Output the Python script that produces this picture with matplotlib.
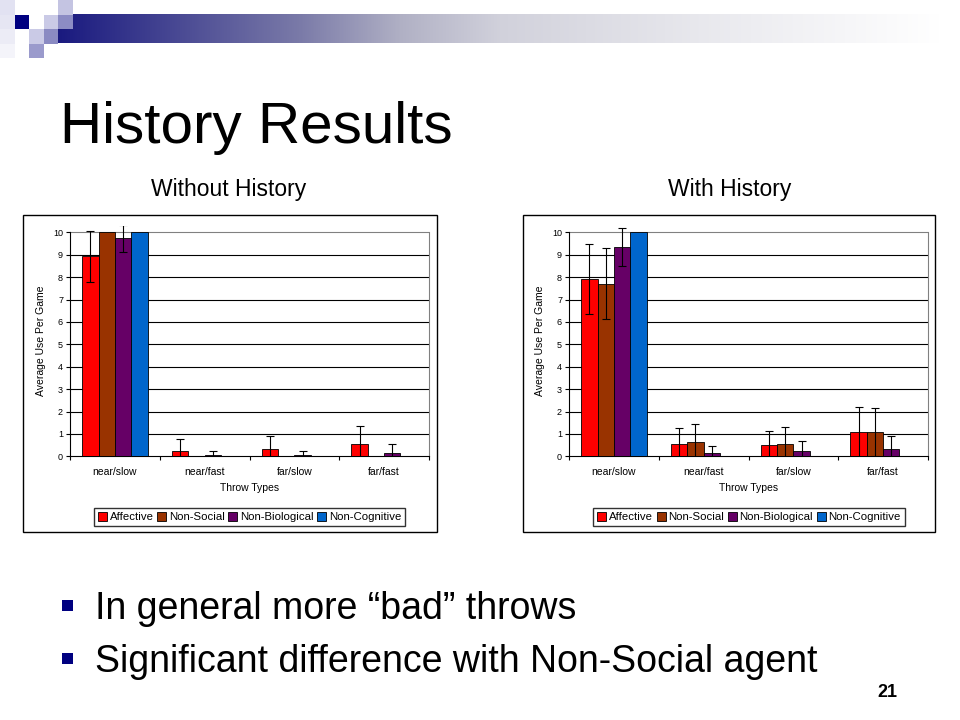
import numpy as np
import matplotlib.pyplot as plt
from matplotlib.patches import Rectangle, Patch

plt.rcParams['font.family'] = ['Liberation Sans', 'DejaVu Sans']

categories = ["near/slow", "near/fast", "far/slow", "far/fast"]
agents = ["Affective", "Non-Social", "Non-Biological", "Non-Cognitive"]
colors = ["#FF0000", "#993300", "#660066", "#0066CC"]

# Without History
no_hist_affective = [8.93, 0.24, 0.33, 0.55]
no_hist_nonsocial = [10.0, 0.0, 0.0, 0.0]
no_hist_nonbio = [9.73, 0.05, 0.05, 0.13]
no_hist_noncog = [10.0, 0.0, 0.0, 0.0]
no_hist_affective_err = [1.13, 0.53, 0.58, 0.80]
no_hist_nonsocial_err = [0.0, 0.0, 0.0, 0.0]
no_hist_nonbio_err = [0.6, 0.20, 0.18, 0.42]
no_hist_noncog_err = [0.0, 0.0, 0.0, 0.0]

# With History
hist_affective = [7.90, 0.54, 0.49, 1.07]
hist_nonsocial = [7.71, 0.63, 0.54, 1.07]
hist_nonbio = [9.33, 0.13, 0.22, 0.31]
hist_noncog = [10.0, 0.0, 0.0, 0.0]
hist_affective_err = [1.56, 0.71, 0.66, 1.12]
hist_nonsocial_err = [1.57, 0.80, 0.75, 1.07]
hist_nonbio_err = [0.85, 0.32, 0.46, 0.58]
hist_noncog_err = [0.0, 0.0, 0.0, 0.0]

W, H = 960, 720
fig = plt.figure(figsize=(9.6, 7.2), dpi=100)


def fx(x):
    return x / W


def fy(y):
    return 1 - y / H


# background / decoration layer
bg = fig.add_axes([0, 0, 1, 1])
bg.set_xlim(0, W)
bg.set_ylim(H, 0)
bg.axis("off")

# header gradient band (navy fading to white)
gx = np.linspace(58, 940, 600)
stops_x = [58, 300, 400, 500, 700, 940]
stops_c = np.array([[0.10, 0.10, 0.50], [0.48, 0.48, 0.66], [0.69, 0.69, 0.77],
                    [0.82, 0.82, 0.86], [0.91, 0.91, 0.93], [1.0, 1.0, 1.0]])
band = np.stack([np.interp(gx, stops_x, stops_c[:, k]) for k in range(3)], axis=1)
bg.imshow(band[None, :, :], extent=[58, 940, 43, 14], aspect="auto", zorder=1)

s = 14.5
squares = [
    (0, 0, "#e2e2f2"), (0, 1, "#e6e6f3"), (0, 2, "#ececf6"), (0, 3, "#f4f4fa"),
    (1, 1, "#000080"),
    (2, 2, "#cacae6"), (2, 3, "#9a9acc"),
    (3, 1, "#cacae6"), (3, 2, "#8a8ac2"),
    (4, 0, "#c4c4e2"), (4, 1, "#8c8cc4"),
]
for cx, cy, c in squares:
    bg.add_patch(Rectangle((cx * s, cy * s), s, s, facecolor=c, edgecolor="none", zorder=2))

bg.text(60, 143, "History Results", fontsize=42, va="baseline", ha="left")
bg.text(229, 196, "Without History", fontsize=16.5, va="baseline", ha="center")
bg.text(730, 196, "With History", fontsize=16.5, va="baseline", ha="center")

for yb, txt in [(619, "In general more \u201cbad\u201d throws"),
                (672, "Significant difference with Non-Social agent")]:
    bg.add_patch(Rectangle((62, yb - 19), 11, 11, facecolor="#000080", edgecolor="none"))
    bg.text(95, yb, txt, fontsize=27, va="baseline", ha="left")

bg.text(897, 697, "21", fontsize=13, fontweight="bold", va="baseline", ha="right")

# chart frames
bg.add_patch(Rectangle((23, 215), 414, 317, facecolor="none", edgecolor="black", lw=1))
bg.add_patch(Rectangle((523, 215), 412, 317, facecolor="none", edgecolor="black", lw=1))


def draw_chart(x0, x1, vals, errs, legend_center):
    ytop = 10.3
    y_bottom = 456.3
    y_top = y_bottom - ytop * 22.4
    ax = fig.add_axes([fx(x0), fy(y_bottom), fx(x1 - x0), (y_bottom - y_top) / H])
    ax.set_facecolor("white")
    x = np.arange(len(categories))
    w = 0.182
    for i, (v, e) in enumerate(zip(vals, errs)):
        pos = x + (i - 1.5) * w
        ax.bar(pos, v, width=w, color=colors[i], edgecolor="black", lw=0.6, zorder=3)
        v = np.array(v)
        e = np.array(e)
        m = e > 0
        ax.errorbar(pos[m], v[m], yerr=e[m], fmt="none", ecolor="black",
                    elinewidth=0.8, capsize=3, capthick=0.8, zorder=4)
    ax.set_xlim(-0.5, 3.5)
    ax.set_ylim(0, ytop)
    for yy in range(1, 10):
        ax.axhline(yy, color="black", lw=0.8, zorder=1)
    ax.axhline(10, color="#808080", lw=0.8, zorder=1)
    ax.spines["top"].set_visible(False)
    ax.spines["right"].set_color("#808080")
    ax.spines["right"].set_bounds(0, 10)
    ax.spines["left"].set_bounds(0, 10)
    ax.spines["left"].set_linewidth(0.8)
    ax.spines["bottom"].set_linewidth(0.8)
    ax.spines["right"].set_linewidth(0.8)
    ax.set_yticks(range(0, 11))
    ax.tick_params(axis="y", labelsize=6.5, length=3, width=0.8, pad=2)
    ax.set_xticks(np.arange(-0.5, 4.0, 1.0))
    ax.set_xticklabels([])
    ax.set_xticks(x, minor=True)
    ax.set_xticklabels(categories, minor=True, fontsize=7.5)
    ax.tick_params(axis="x", which="major", length=3, width=0.8)
    ax.tick_params(axis="x", which="minor", length=0, pad=8)
    ax.set_xlabel("Throw Types", fontsize=7.5, labelpad=4)
    ax.set_ylabel("Average Use Per Game", fontsize=7.5, labelpad=5)
    handles = [Patch(facecolor=c, edgecolor="black", lw=0.6) for c in colors]
    fig.legend(handles, agents, loc="center",
               bbox_to_anchor=(fx(legend_center), fy(517)), ncol=4,
               fontsize=8.2, frameon=True, fancybox=False, edgecolor="black",
               handlelength=0.8, handleheight=0.8, handletextpad=0.25,
               columnspacing=0.3, borderpad=0.35, borderaxespad=0)
    return ax


draw_chart(70, 429,
           [no_hist_affective, no_hist_nonsocial, no_hist_nonbio, no_hist_noncog],
           [no_hist_affective_err, no_hist_nonsocial_err, no_hist_nonbio_err, no_hist_noncog_err],
           249.5)
draw_chart(569, 928,
           [hist_affective, hist_nonsocial, hist_nonbio, hist_noncog],
           [hist_affective_err, hist_nonsocial_err, hist_nonbio_err, hist_noncog_err],
           749)

fig.savefig("out.png", dpi=100)
